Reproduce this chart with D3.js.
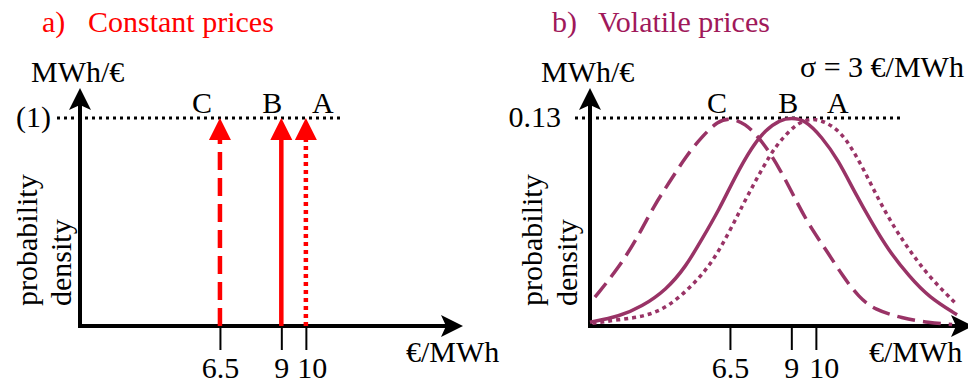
<!DOCTYPE html>
<html>
<head>
<meta charset="utf-8">
<script src="https://cdn.jsdelivr.net/npm/d3@7"></script>
<style>
  body { margin: 0; background: #fff; }
  svg { display: block; font-family: "Liberation Serif", "Times New Roman", serif; }
</style>
</head>
<body>
<svg></svg>
<script>
 // data
 let categories = ['C', 'B', 'A'];
 let prices = [6.5, 9, 10];            // €/MWh
 let tickLabels = ['6.5', '9', '10'];
 let constantLevel = 1;
 let constantLabel = '(1)';
 let peakLevel = 0.13;
 let peakLabel = '0.13';
 let sigmaText = 'σ = 3 €/MWh';

 // density curves [price, MWh/€]
 let curveC = [[1.0, 0.018], [2.0, 0.037], [2.8, 0.057], [3.4, 0.075], [4.0, 0.089], [4.7, 0.106],
   [5.4, 0.119], [6.0, 0.128], [6.5, 0.13], [7.1, 0.127], [7.8, 0.116], [8.55, 0.098], [9.3, 0.075],
   [9.85, 0.06], [10.4, 0.048], [11.1, 0.031], [11.75, 0.018], [12.4, 0.01], [13.5, 0.005],
   [14.6, 0.002], [15.55, 0.001]];
 let curveB = [[0.8, 0.0023], [2.0, 0.006], [2.9, 0.012], [3.9, 0.0225], [4.7, 0.037], [5.35, 0.054],
   [6.05, 0.0725], [6.7, 0.093], [7.4, 0.112], [7.95, 0.1225], [8.55, 0.129], [9.0, 0.13], [9.55, 0.129],
   [10.25, 0.118], [10.9, 0.104], [11.6, 0.083], [12.3, 0.064], [12.95, 0.0475], [13.8, 0.031],
   [14.6, 0.018], [15.75, 0.007]];
 let curveA = [[0.9, 0.0017], [2.0, 0.004], [3.05, 0.006], [4.0, 0.012], [4.95, 0.025], [5.75, 0.039],
   [6.45, 0.058], [7.0, 0.075], [7.55, 0.091], [8.1, 0.106], [8.55, 0.116], [9.3, 0.128], [10.0, 0.13],
   [10.65, 0.1255], [11.2, 0.118], [11.9, 0.0995], [12.55, 0.079], [13.25, 0.06], [13.9, 0.0455],
   [14.6, 0.031], [15.7, 0.014]];
 let curves = [curveC, curveB, curveA];

 let width = 968;
 let height = 387;
 let fontSize = 30;
 let axisY = 326;
 let axisTop = 88;
 let red = '#ff0000';
 let plum = '#993366';
 let dashes = ['18 8', null, '4 4'];

 let svg = d3.select('svg').attr('width', width).attr('height', height);

 let xScale = d3.scaleLinear().domain([0.8, 16.4]).range([80, 463]);
 let yLeft = d3.scaleLinear().domain([0, constantLevel]).range([axisY, 118]);
 let yRight = d3.scaleLinear().domain([0, peakLevel]).range([axisY, 118]);

 let panels = [
  { offset: 0, color: red, tag: 'a)', title: 'Constant prices', yScale: yLeft, level: constantLevel,
    levelLabel: constantLabel, dotFrom: 57, dotTo: 343, letterDx: [-18, -9, 17], xLabelX: 406,
    rotX: [37, 71], tickDx: 6 },
  { offset: 510, color: '#a0185a', tag: 'b)', title: 'Volatile prices', yScale: yRight, level: peakLevel,
    levelLabel: peakLabel, dotFrom: 65, dotTo: 392, letterDx: [-13, -3, 22], xLabelX: 359,
    rotX: [32, 67], tickDx: 8 }
 ];

 let addText = (g, x, y, txt) => {
  return g.append('text').attr('x', x).attr('y', y)
          .attr('font-size', fontSize).attr('fill', '#000').text(txt);
 }

 let drawPanel = (p) => {
  let g = svg.append('g').attr('transform', `translate(${p.offset}, 0)`);
  let x0 = xScale.range()[0];
  let x1 = xScale.range()[1];

  // titles
  addText(g, 42, 32, p.tag).attr('fill', p.color);
  addText(g, 88, 32, p.title).attr('fill', p.color);

  // dotted reference level
  g.append('line')
   .attr('x1', p.dotFrom).attr('x2', p.dotTo)
   .attr('y1', p.yScale(p.level)).attr('y2', p.yScale(p.level))
   .attr('stroke', '#000').attr('stroke-width', 3).attr('stroke-dasharray', '3 4');

  addText(g, x0 - 29, p.yScale(p.level) + 9, p.levelLabel).attr('text-anchor', 'end');

  // x ticks
  let xAxis = d3.axisBottom(xScale)
                .tickValues(prices)
                .tickSize(24)
                .tickFormat((d, i) => tickLabels[i]);
  let ax = g.append('g').attr('transform', `translate(0, ${axisY})`).call(xAxis);
  ax.select('.domain').remove();
  ax.selectAll('.tick line').attr('stroke', '#000').attr('stroke-width', 2);
  ax.selectAll('.tick text')
    .attr('y', 52).attr('dy', 0)
    .attr('font-size', fontSize).attr('font-family', '"Liberation Serif", serif')
    .attr('fill', '#000')
    .attr('dx', (d, i) => i === prices.length - 1 ? p.tickDx : 0);

  // axis lines with arrows
  g.append('line').attr('x1', x0 - 2).attr('x2', x1 - 14).attr('y1', axisY).attr('y2', axisY)
   .attr('stroke', '#000').attr('stroke-width', 4);
  g.append('line').attr('x1', x0).attr('x2', x0).attr('y1', axisY + 2).attr('y2', axisTop + 14)
   .attr('stroke', '#000').attr('stroke-width', 4);
  g.append('path')
   .attr('d', `M${x1},${axisY} L${x1 - 22},${axisY - 11} L${x1 - 17},${axisY} L${x1 - 22},${axisY + 11} Z`)
   .attr('fill', '#000');
  g.append('path')
   .attr('d', `M${x0},${axisTop} L${x0 + 11},${axisTop + 22} L${x0},${axisTop + 17} L${x0 - 11},${axisTop + 22} Z`)
   .attr('fill', '#000');

  // axis titles
  addText(g, x0 - 49, 82, 'MWh/€');
  addText(g, p.xLabelX, 362, '€/MWh');
  let ylab = ['probability', 'density'];
  ylab.forEach((t, i) => {
   addText(g, 0, 0, t)
    .attr('transform', `translate(${p.rotX[i]}, 306) rotate(-90)`);
  });

  // category letters
  categories.forEach((c, i) => {
   addText(g, xScale(prices[i]) + p.letterDx[i], 113, c).attr('text-anchor', 'middle');
  });

  return g;
 }

 let drawConstant = (g) => {
  prices.forEach((v, i) => {
   let x = xScale(v);
   let top = yLeft(constantLevel);
   g.append('line')
    .attr('x1', x).attr('x2', x)
    .attr('y1', yLeft(0)).attr('y2', top + 21)
    .attr('stroke', red).attr('stroke-width', 4.5)
    .attr('stroke-dasharray', dashes[i]);
   g.append('path')
    .attr('d', `M${x},${top} L${x + 11},${top + 22} L${x - 11},${top + 22} Z`)
    .attr('fill', red);
  });
 }

 let drawVolatile = (g) => {
  let line = d3.line()
               .x(d => xScale(d[0]))
               .y(d => yRight(d[1]))
               .curve(d3.curveBasis);
  curves.forEach((c, i) => {
   g.append('path')
    .attr('d', line(c))
    .attr('fill', 'none')
    .attr('stroke', plum)
    .attr('stroke-width', 3.5)
    .attr('stroke-dasharray', dashes[i]);
  });
  addText(g, 290, 77, sigmaText);
 }

 let gLeft = drawPanel(panels[0]);
 let gRight = drawPanel(panels[1]);
 drawConstant(gLeft);
 drawVolatile(gRight);
</script>
</body>
</html>
